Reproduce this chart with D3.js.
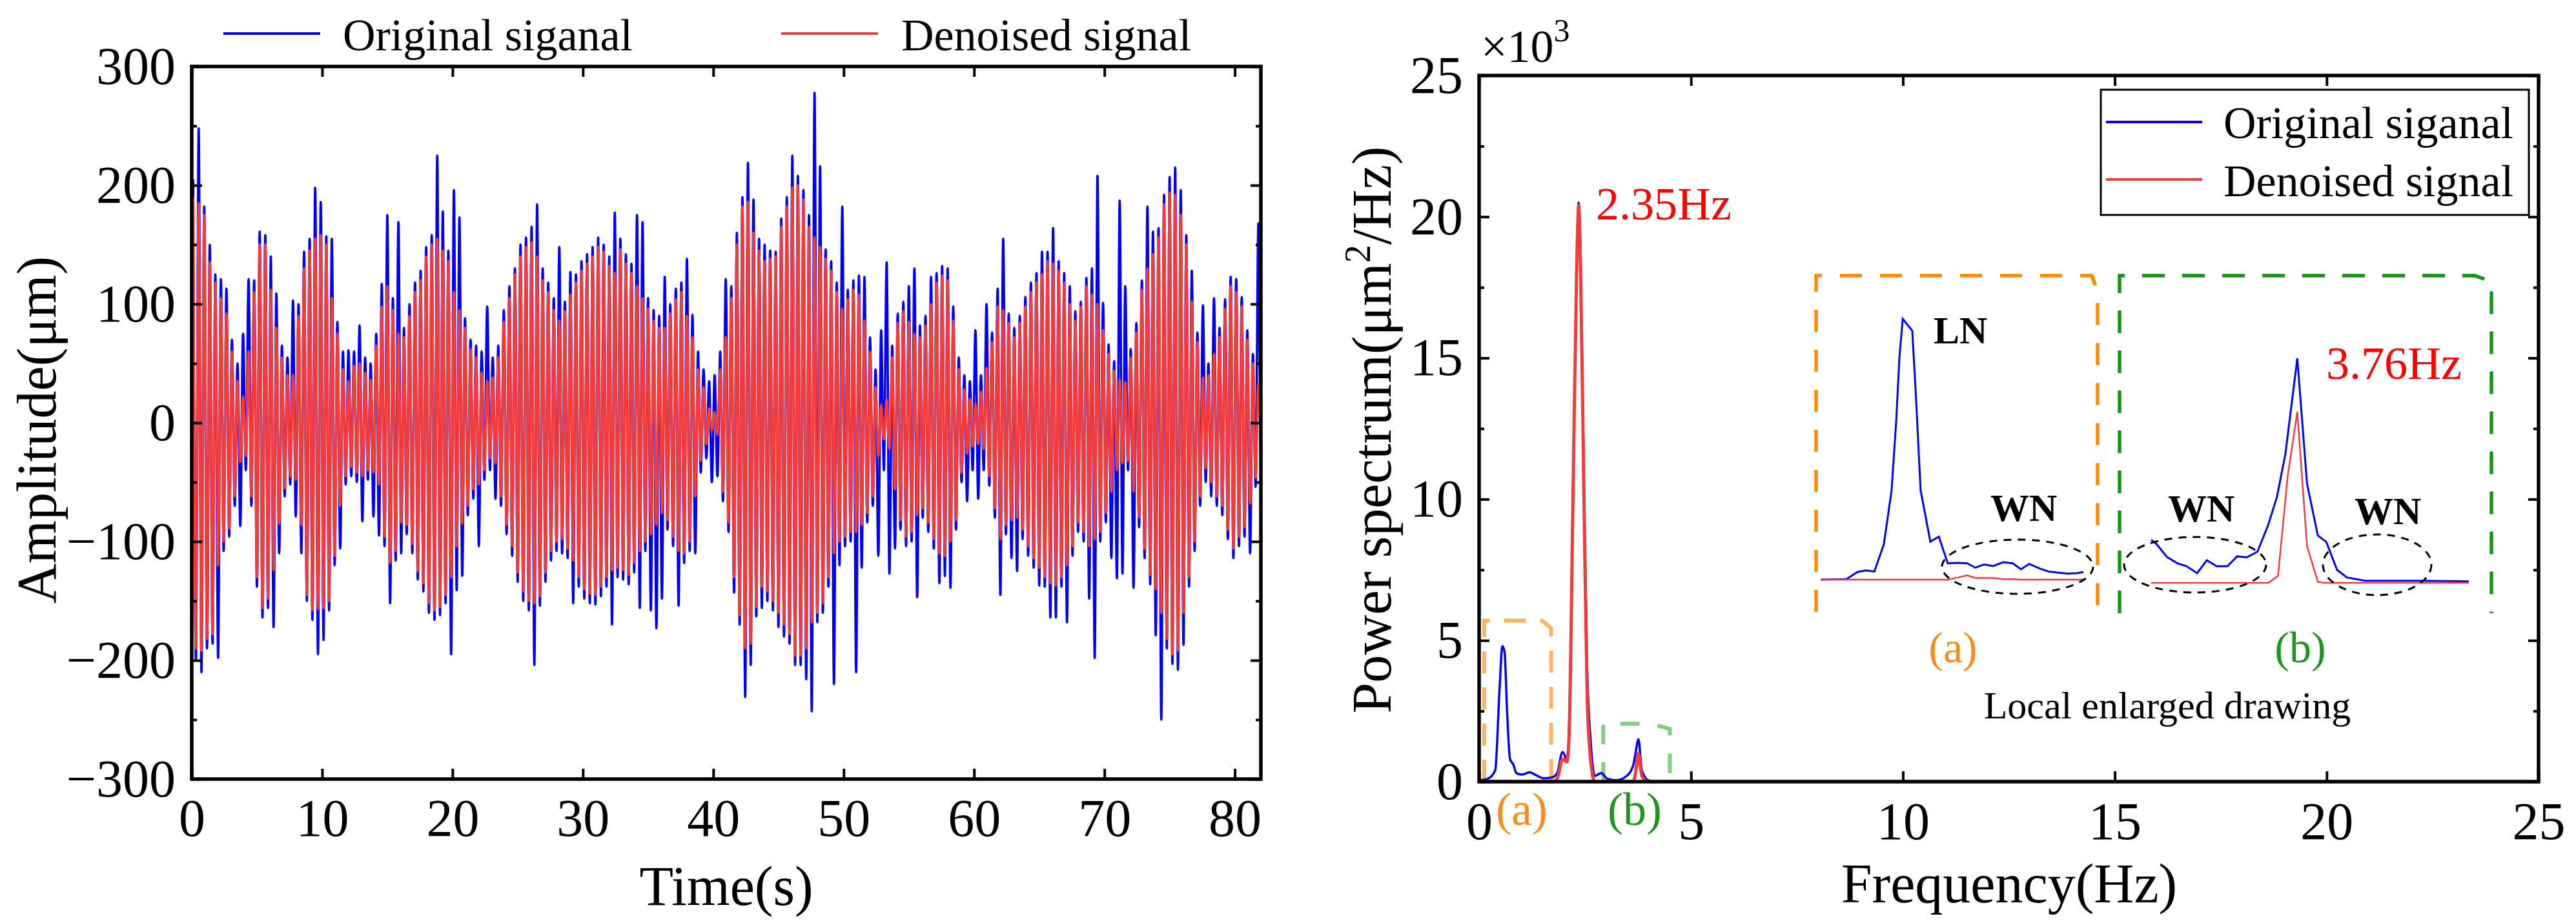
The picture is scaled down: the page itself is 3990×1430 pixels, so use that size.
<!DOCTYPE html>
<html>
<head>
<meta charset="utf-8">
<script src="https://cdn.jsdelivr.net/npm/d3@7"></script>
<style>
  body { margin: 0; background: #fff; }
  svg text { font-family: "Liberation Serif", Tinos, "DejaVu Serif", serif; }
</style>
</head>
<body>
<svg id="chart"></svg>
<script>
// ---- time signal: one peak + one trough per cycle of the 2.35 Hz component (µm) ----
const cycleFreq = 2.35;
const redPeaks = [190,185,175,135,118,105,92,60,35,22,
  60,110,150,150,112,80,55,40,40,90,
  130,145,155,158,150,105,75,45,35,48,
  50,42,36,65,98,115,95,75,72,90,
  110,120,140,150,155,145,136,110,95,80,
  62,55,42,35,38,55,85,105,125,140,
  148,152,140,120,110,95,86,94,108,118,
  128,134,140,148,144,132,126,146,134,126,
  115,105,96,86,80,80,92,104,110,90,
  72,45,30,12,9,45,72,105,150,182,
  186,160,145,136,138,140,165,182,198,200,
  188,165,156,148,138,128,110,96,104,112,
  108,86,60,30,15,20,55,84,94,85,
  75,72,82,100,118,124,120,86,45,28,
  20,16,26,46,68,98,95,84,72,84,
  98,110,118,125,136,134,128,118,100,86,
  98,115,108,100,78,58,44,36,34,55,
  76,112,130,142,156,184,194,192,175,150,
  102,68,38,40,58,72,96,115,110,98,
  70,50,33];
const redTroughs = [-190,-192,-182,-178,-120,-100,-89,-62,-33,-28,
  -62,-130,-156,-148,-124,-85,-55,-45,-48,-86,
  -145,-158,-157,-156,-150,-112,-70,-45,-37,-42,
  -45,-40,-42,-52,-96,-118,-108,-84,-86,-102,
  -125,-135,-152,-158,-155,-145,-130,-104,-85,-70,
  -56,-52,-40,-30,-34,-62,-86,-104,-126,-142,
  -150,-152,-146,-126,-108,-100,-98,-106,-116,-130,
  -140,-144,-145,-138,-130,-124,-122,-124,-128,-118,
  -108,-100,-94,-86,-76,-82,-96,-108,-110,-100,
  -62,-32,-18,-6,-10,-58,-84,-130,-162,-190,
  -186,-155,-138,-142,-150,-160,-170,-178,-196,-196,
  -190,-168,-160,-152,-130,-110,-100,-96,-92,-92,
  -86,-76,-62,-28,-14,-22,-56,-82,-96,-92,
  -78,-72,-84,-98,-110,-112,-100,-82,-42,-26,
  -20,-18,-22,-45,-72,-98,-86,-82,-80,-90,
  -104,-114,-122,-130,-135,-137,-130,-120,-104,-84,
  -92,-104,-98,-92,-76,-58,-40,-34,-32,-58,
  -80,-106,-128,-140,-160,-182,-195,-192,-160,-130,
  -100,-62,-38,-50,-62,-70,-90,-106,-96,-88,
  -68,-46,-30];
const bluePeaks = [205,248,182,150,125,121,113,70,50,75,
  121,120,161,158,140,109,65,55,103,100,
  144,155,198,186,157,155,85,60,61,60,
  82,55,50,75,117,175,105,169,80,100,
  118,128,148,158,225,178,145,196,173,88,
  70,65,60,98,55,65,95,115,130,150,
  156,165,184,130,118,105,148,102,127,125,
  136,142,148,156,150,140,177,155,142,134,
  175,169,105,95,90,123,100,113,118,138,
  91,60,45,35,40,60,121,115,160,190,
  219,188,155,150,145,144,172,190,225,208,
  196,175,278,216,146,136,118,182,112,120,
  124,123,72,45,78,135,65,92,102,115,
  130,82,90,123,126,132,130,98,55,40,
  35,78,40,100,76,113,155,92,80,90,
  106,118,126,144,144,164,136,126,115,94,
  102,122,130,208,101,66,52,187,115,62,
  84,120,182,161,164,192,207,215,196,158,
  128,76,99,50,105,80,104,123,121,106,
  78,58,168];
const blueTroughs = [-200,-210,-190,-186,-198,-108,-96,-70,-87,-40,
  -70,-138,-164,-156,-172,-110,-62,-52,-79,-110,
  -150,-166,-195,-183,-158,-120,-106,-52,-45,-50,
  -83,-48,-79,-95,-104,-152,-116,-110,-94,-110,
  -132,-142,-160,-166,-162,-152,-195,-141,-129,-78,
  -64,-104,-48,-40,-64,-70,-94,-112,-134,-150,
  -158,-204,-154,-134,-116,-108,-110,-114,-152,-138,
  -148,-152,-153,-146,-138,-170,-130,-132,-136,-126,
  -156,-108,-158,-173,-148,-90,-104,-154,-118,-108,
  -110,-42,-30,-50,-45,-66,-92,-143,-170,-231,
  -204,-163,-156,-150,-158,-172,-180,-186,-204,-204,
  -216,-243,-168,-160,-138,-220,-120,-104,-100,-210,
  -122,-84,-70,-112,-40,-127,-106,-90,-104,-100,
  -147,-80,-92,-106,-135,-129,-139,-90,-50,-66,
  -40,-64,-40,-53,-80,-145,-94,-114,-125,-98,
  -112,-122,-137,-138,-164,-164,-138,-168,-112,-92,
  -100,-148,-198,-100,-84,-114,-131,-127,-40,-139,
  -88,-114,-136,-179,-250,-190,-203,-208,-187,-138,
  -108,-70,-50,-62,-70,-78,-98,-114,-104,-96,
  -110,-54,-83];

// ---- power spectrum (x10^3 µm²/Hz) ----
const specFreq  = [0, 0.2, 0.38, 0.48, 0.55, 0.6, 0.66, 0.73, 0.81, 0.88, 1.01, 1.19, 1.34, 1.52, 1.72, 1.84, 1.97, 2.07, 2.12, 2.22, 2.3, 2.35, 2.39, 2.47, 2.55, 2.63, 2.73, 2.88, 3.03, 3.23, 3.48, 3.64, 3.69, 3.76, 3.84, 3.99, 4.14, 25];
const specBlue  = [0.05, 0.1, 0.4, 3.2, 4.8, 4.6, 2.5, 0.8, 0.6, 0.3, 0.25, 0.33, 0.23, 0.12, 0.15, 0.3, 1.05, 0.8, 1.7, 10.7, 18, 20.5, 19, 11, 4.0, 1.5, 0.2, 0.3, 0.1, 0.05, 0.2, 0.6, 1.0, 1.5, 0.4, 0.05, 0, 0];
const specRed   = [0, 0, 0, 0, 0, 0, 0, 0, 0, 0, 0, 0, 0, 0, 0, 0.1, 0.8, 0.7, 1.5, 10.5, 18, 20.4, 18.5, 10.5, 3.0, 0.8, 0, 0, 0, 0, 0, 0, 0.3, 1.0, 0.2, 0, 0, 0];

// local enlarged drawing (a): 0.1 - 1.7 Hz
const zoomAFreq = [0.1, 0.257, 0.324, 0.375, 0.427, 0.485, 0.532, 0.56, 0.58, 0.6, 0.658, 0.678, 0.709, 0.768, 0.82, 0.874, 0.937, 0.992, 1.043, 1.095, 1.15, 1.212, 1.27, 1.32, 1.37, 1.437, 1.488, 1.54, 1.606, 1.66, 1.7];
const zoomABlue = [0, 0.01, 0.14, 0.17, 0.15, 0.65, 1.64, 2.91, 4.1, 4.8, 4.58, 3.5, 1.64, 0.7, 0.79, 0.3, 0.31, 0.3, 0.22, 0.28, 0.25, 0.32, 0.3, 0.19, 0.29, 0.2, 0.15, 0.13, 0.11, 0.12, 0.14];
const zoomARed  = [0, 0, 0, 0, 0, 0, 0, 0, 0, 0, 0, 0, 0, 0, 0, 0, 0.04, 0.08, 0.03, 0.03, 0.03, 0.01, 0.01, 0, 0, 0, 0, 0, 0, 0, 0];
// local enlarged drawing (b): 3.07 - 4.57 Hz
const zoomBFreq = [3.07, 3.094, 3.145, 3.196, 3.236, 3.287, 3.333, 3.379, 3.43, 3.476, 3.521, 3.572, 3.623, 3.664, 3.704, 3.76, 3.806, 3.857, 3.897, 3.948, 3.994, 4.08, 4.334, 4.57];
const zoomBBlue = [0.287, 0.261, 0.172, 0.129, 0.112, 0.065, 0.151, 0.111, 0.111, 0.177, 0.17, 0.208, 0.388, 0.575, 0.862, 1.5, 0.661, 0.316, 0.273, 0.086, 0.036, 0.014, 0.014, 0.01];
const zoomBRedFreq = [3.07, 3.623, 3.669, 3.715, 3.76, 3.806, 3.857, 3.887, 4.57];
const zoomBRed  = [0, 0, 0.046, 0.718, 1.142, 0.244, 0.007, 0, 0];

const timeTicks = [0, 10, 20, 30, 40, 50, 60, 70, 80];
const ampTicks = [-300, -200, -100, 0, 100, 200, 300];
const ampMinor = [-250, -150, -50, 50, 150, 250];
const freqTicks = [0, 5, 10, 15, 20, 25];
const powTicks = [0, 5, 10, 15, 20, 25];
const powMinor = [2.5, 7.5, 12.5, 17.5, 22.5];
const seriesNames = ["Original siganal", "Denoised signal"];

const BLUE = "#0000ff", RED = "#f23c3c";
const SERIF = '"Liberation Serif", Tinos, "DejaVu Serif", serif';

const svg = d3.select("#chart").attr("width", 3990).attr("height", 1430)
  .attr("font-family", SERIF);

// turn per-cycle extremes into a polyline in time
function cyclePoints(peaks, troughs) {
  const T = 1 / cycleFreq;
  let pts = [];
  peaks.forEach((p, i) => {
    pts.push([i * T + T * 0.25, p]);
    pts.push([i * T + T * 0.75, troughs[i]]);
  });
  return pts;
}

// boxed axes with inward ticks on all four sides
function drawFrame(x, y, xTicks, yTicks, yMinor, xPad, yPad) {
  const [xa, xb] = x.range();
  const [ya, yb] = y.range();
  const g = svg.append("g");
  const fmt = d3.format("d");
  g.append("g").attr("transform", `translate(0,${ya})`)
    .call(d3.axisBottom(x).tickValues(xTicks).tickSize(-16).tickPadding(xPad).tickFormat(fmt));
  g.append("g").attr("transform", `translate(0,${yb})`)
    .call(d3.axisTop(x).tickValues(xTicks).tickSize(-16).tickFormat(""));
  g.append("g").attr("transform", `translate(${xa},0)`)
    .call(d3.axisLeft(y).tickValues(yTicks).tickSize(-16).tickPadding(yPad).tickFormat(fmt));
  g.append("g").attr("transform", `translate(${xa},0)`)
    .call(d3.axisLeft(y).tickValues(yMinor).tickSize(-8).tickFormat(""));
  g.append("g").attr("transform", `translate(${xb},0)`)
    .call(d3.axisRight(y).tickValues(yTicks).tickSize(-16).tickFormat(""));
  g.append("g").attr("transform", `translate(${xb},0)`)
    .call(d3.axisRight(y).tickValues(yMinor).tickSize(-8).tickFormat(""));
  g.selectAll("path.domain").remove();
  g.selectAll("g").attr("font-family", SERIF);
  g.selectAll(".tick line").attr("stroke", "#000").attr("stroke-width", 4);
  g.selectAll(".tick text").attr("font-family", SERIF).attr("font-size", 82).attr("fill", "#000");
  g.append("rect")
    .attr("x", xa).attr("y", yb).attr("width", xb - xa).attr("height", ya - yb)
    .attr("fill", "none").attr("stroke", "#000").attr("stroke-width", 5.5);
}

// ================= left: time signal =================
const xT = d3.scaleLinear().domain([0, 82]).range([297, 1953]);
const yA = d3.scaleLinear().domain([-300, 300]).range([1207, 103]);

svg.append("clipPath").attr("id", "clipL")
  .append("rect").attr("x", 297).attr("y", 103).attr("width", 1656).attr("height", 1104);

const sigLine = d3.line().x(d => xT(d[0])).y(d => yA(d[1])).curve(d3.curveMonotoneX);
const sig = svg.append("g").attr("clip-path", "url(#clipL)");
sig.append("path").datum(cyclePoints(bluePeaks, blueTroughs))
  .attr("d", sigLine).attr("fill", "none").attr("stroke", BLUE).attr("stroke-width", 3.6);
sig.append("path").datum(cyclePoints(redPeaks, redTroughs))
  .attr("d", sigLine).attr("fill", "none").attr("stroke", RED).attr("stroke-width", 3.8);

drawFrame(xT, yA, timeTicks, ampTicks, ampMinor, 30, 25);

// legend across the top
[[346, 531, BLUE], [1210, 1396, RED]].forEach((l, i) => {
  svg.append("line").attr("x1", l[0]).attr("x2", l[0] + 150).attr("y1", 52).attr("y2", 52)
    .attr("stroke", l[2]).attr("stroke-width", 4);
  svg.append("text").attr("x", l[1]).attr("y", 78).attr("font-size", 70).text(seriesNames[i]);
});

svg.append("text").attr("x", 1125).attr("y", 1402).attr("text-anchor", "middle")
  .attr("font-size", 86).text("Time(s)");
svg.append("text").attr("transform", "translate(86,666) rotate(-90)").attr("text-anchor", "middle")
  .attr("font-size", 86).text("Amplitude(μm)");

// ================= right: power spectrum =================
const xF = d3.scaleLinear().domain([0, 25]).range([2291, 3932]);
const yP = d3.scaleLinear().domain([0, 25]).range([1211, 117]);

// small dashed markers for the enlarged regions (drawn under the curves)
function chamferBox(x0, y0, x1, y1, cx, cy) {
  return `M${x0},${y1}L${x0},${y0}L${x1 - cx},${y0}L${x1},${y0 + cy}L${x1},${y1}`;
}
svg.append("path").attr("d", chamferBox(xF(0.12), yP(5.7), xF(1.7), yP(0), 14, 12))
  .attr("fill", "none").attr("stroke", "#ff9a30").attr("stroke-opacity", 0.75)
  .attr("stroke-width", 6).attr("stroke-dasharray", "34 22");
svg.append("path").attr("d", chamferBox(xF(2.93), yP(2.05), xF(4.5), yP(0), 30, 8))
  .attr("fill", "none").attr("stroke", "#4cb84c").attr("stroke-opacity", 0.7)
  .attr("stroke-width", 6).attr("stroke-dasharray", "30 28");

const specLine = d3.line().x(d => xF(d[0])).y(d => yP(d[1])).curve(d3.curveMonotoneX);
svg.append("path").datum(specFreq.map((f, i) => [f, specBlue[i]]))
  .attr("d", specLine).attr("fill", "none").attr("stroke", BLUE).attr("stroke-width", 3.5);
svg.append("path").datum(specFreq.map((f, i) => [f, specRed[i]]))
  .attr("d", specLine).attr("fill", "none").attr("stroke", RED).attr("stroke-width", 5);

drawFrame(xF, yP, freqTicks, powTicks, powMinor, 31, 25);

// x10^3 multiplier
svg.append("text").attr("x", 2294).attr("y", 96).attr("font-size", 72)
  .text("×10").append("tspan").attr("font-size", 50).attr("dy", -32).text("3");

svg.append("text").attr("x", 3112).attr("y", 1398).attr("text-anchor", "middle")
  .attr("font-size", 86).text("Frequency(Hz)");
const yTitle = svg.append("text").attr("transform", "translate(2154,666) rotate(-90)")
  .attr("text-anchor", "middle").attr("font-size", 86);
yTitle.append("tspan").text("Power spectrum(μm");
yTitle.append("tspan").attr("font-size", 56).attr("dy", -32).text("2");
yTitle.append("tspan").attr("dy", 32).text("/Hz)");

svg.append("text").attr("x", 2472).attr("y", 340).attr("font-size", 72).attr("fill", "#ff0000").text("2.35Hz");
svg.append("text").attr("x", 2357).attr("y", 1278).attr("text-anchor", "middle").attr("font-size", 72)
  .attr("fill", "#ff8c1a").text("(a)");
svg.append("text").attr("x", 2532).attr("y", 1278).attr("text-anchor", "middle").attr("font-size", 72)
  .attr("fill", "#1e961e").text("(b)");

// legend box
svg.append("rect").attr("x", 3254).attr("y", 139).attr("width", 663).attr("height", 194)
  .attr("fill", "#fff").attr("stroke", "#000").attr("stroke-width", 3);
[[189, 214, BLUE], [278, 304, RED]].forEach((l, i) => {
  svg.append("line").attr("x1", 3262).attr("x2", 3411).attr("y1", l[0]).attr("y2", l[0])
    .attr("stroke", l[2]).attr("stroke-width", 4);
  svg.append("text").attr("x", 3444).attr("y", l[1]).attr("font-size", 70).text(seriesNames[i]);
});

// ---- local enlarged drawings ----
svg.append("path").attr("d", chamferBox(2813, 427, 3249, 948, 9, 25))
  .attr("fill", "none").attr("stroke", "#ff8c00").attr("stroke-width", 5.5).attr("stroke-dasharray", "34 28");
svg.append("path").attr("d", chamferBox(3283, 427, 3859, 950, 26, 9))
  .attr("fill", "none").attr("stroke", "#149614").attr("stroke-width", 5.5).attr("stroke-dasharray", "35 27");

const xZA = d3.scaleLinear().domain([0.1, 1.7]).range([2820, 3227]);
const yZA = d3.scaleLinear().domain([0, 4.8]).range([898, 494]);
const xZB = d3.scaleLinear().domain([3.07, 4.57]).range([3332, 3824]);
const yZB = d3.scaleLinear().domain([0, 1.5]).range([903, 555]);

const zaLine = d3.line().x(d => xZA(d[0])).y(d => yZA(d[1]));
const zbLine = d3.line().x(d => xZB(d[0])).y(d => yZB(d[1]));
svg.append("path").datum(zoomAFreq.map((f, i) => [f, zoomABlue[i]]))
  .attr("d", zaLine).attr("fill", "none").attr("stroke", BLUE).attr("stroke-width", 3);
svg.append("path").datum(zoomAFreq.map((f, i) => [f, zoomARed[i]]))
  .attr("d", zaLine).attr("fill", "none").attr("stroke", RED).attr("stroke-width", 2.5);
svg.append("path").datum(zoomBFreq.map((f, i) => [f, zoomBBlue[i]]))
  .attr("d", zbLine).attr("fill", "none").attr("stroke", BLUE).attr("stroke-width", 3);
svg.append("path").datum(zoomBRedFreq.map((f, i) => [f, zoomBRed[i]]))
  .attr("d", zbLine).attr("fill", "none").attr("stroke", RED).attr("stroke-width", 2.5);

// noise ellipses
[[3125, 878, 117, 42], [3400, 875, 110, 43], [3682, 875, 84, 47]].forEach(e => {
  svg.append("ellipse").attr("cx", e[0]).attr("cy", e[1]).attr("rx", e[2]).attr("ry", e[3])
    .attr("fill", "none").attr("stroke", "#000").attr("stroke-width", 3).attr("stroke-dasharray", "12 10");
});

svg.append("text").attr("x", 2995).attr("y", 532).attr("font-size", 60).attr("font-weight", "bold").text("LN");
[[3083, 807], [3358, 808], [3647, 812]].forEach(p => {
  svg.append("text").attr("x", p[0]).attr("y", p[1]).attr("font-size", 60).attr("font-weight", "bold").text("WN");
});
svg.append("text").attr("x", 3603).attr("y", 587).attr("font-size", 72).attr("fill", "#ff0000").text("3.76Hz");
svg.append("text").attr("x", 3025).attr("y", 1026).attr("text-anchor", "middle").attr("font-size", 68)
  .attr("fill", "#ff8c1a").text("(a)");
svg.append("text").attr("x", 3563).attr("y", 1026).attr("text-anchor", "middle").attr("font-size", 68)
  .attr("fill", "#1e961e").text("(b)");
svg.append("text").attr("x", 3357).attr("y", 1113).attr("text-anchor", "middle").attr("font-size", 60)
  .text("Local enlarged drawing");
</script>
</body>
</html>
